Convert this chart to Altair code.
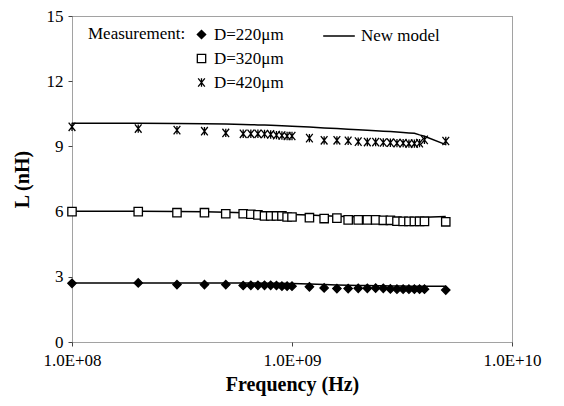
import altair as alt
import pandas as pd

# ---- data ----
freq_hz = [1e8, 2e8, 3e8, 4e8, 5e8, 6e8, 6.5e8, 7e8, 7.5e8, 8e8, 8.5e8, 9e8, 9.5e8,
           1e9, 1.2e9, 1.4e9, 1.6e9, 1.8e9, 2e9, 2.2e9, 2.4e9, 2.6e9, 2.8e9, 3e9,
           3.2e9, 3.4e9, 3.6e9, 3.8e9, 4e9, 5e9]

meas_220 = [2.70, 2.72, 2.64, 2.64, 2.64, 2.60, 2.61, 2.61, 2.61, 2.61, 2.60, 2.57, 2.57,
            2.57, 2.54, 2.49, 2.46, 2.46, 2.47, 2.47, 2.48, 2.47, 2.44, 2.43,
            2.43, 2.43, 2.43, 2.43, 2.43, 2.39]
meas_320 = [6.00, 6.00, 5.95, 5.95, 5.90, 5.90, 5.88, 5.85, 5.80, 5.80, 5.80, 5.80, 5.75,
            5.75, 5.72, 5.68, 5.70, 5.62, 5.62, 5.62, 5.62, 5.60, 5.60, 5.56,
            5.55, 5.55, 5.55, 5.55, 5.55, 5.53]
meas_420 = [9.90, 9.82, 9.75, 9.70, 9.62, 9.58, 9.58, 9.58, 9.57, 9.55, 9.52, 9.50, 9.48,
            9.48, 9.38, 9.28, 9.28, 9.26, 9.22, 9.20, 9.20, 9.18, 9.17, 9.15,
            9.15, 9.13, 9.13, 9.15, 9.30, 9.25]

model_220 = [2.72, 2.72, 2.72, 2.72, 2.72, 2.71, 2.71, 2.71, 2.70, 2.70, 2.70, 2.70, 2.69,
             2.69, 2.67, 2.64, 2.62, 2.61, 2.60, 2.60, 2.59, 2.59, 2.58, 2.58,
             2.58, 2.57, 2.57, 2.57, 2.57, 2.56]
model_320 = [6.02, 6.02, 6.00, 5.99, 5.97, 5.95, 5.94, 5.93, 5.92, 5.91, 5.90, 5.89, 5.88,
             5.87, 5.84, 5.81, 5.79, 5.77, 5.76, 5.74, 5.73, 5.72, 5.71, 5.71,
             5.71, 5.71, 5.72, 5.73, 5.74, 5.78]
model_420 = [10.06, 10.06, 10.05, 10.04, 10.03, 10.01, 10.00, 9.99, 9.98, 9.97, 9.96, 9.95, 9.94,
             9.93, 9.89, 9.85, 9.82, 9.79, 9.77, 9.74, 9.72, 9.70, 9.68, 9.66,
             9.64, 9.62, 9.60, 9.53, 9.47, 9.08]

series_labels = ["D=220μm", "D=320μm", "D=420μm"]
model_label = "New model"
x_tick_values = [1e8, 1e9, 1e10]
x_tick_labels = ["1.0E+08", "1.0E+09", "1.0E+10"]
y_tick_values = [0, 3, 6, 9, 12, 15]

# ---- build tables ----
meas_rows = []
for lab, vals in zip(series_labels, [meas_220, meas_320, meas_420]):
    for f, v in zip(freq_hz, vals):
        meas_rows.append({"f": f, "L": v, "D": lab})
model_rows = []
for lab, vals in zip(series_labels, [model_220, model_320, model_420]):
    for f, v in zip(freq_hz, vals):
        model_rows.append({"f": f, "L": v, "D": lab, "M": model_label})
meas_df = pd.DataFrame(meas_rows)
model_df = pd.DataFrame(model_rows)

label_expr = " : ".join(
    f"datum.value == {v:g} ? '{t}'" for v, t in zip(x_tick_values, x_tick_labels)
) + " : ''"

FONT = "Liberation Serif"
star_path = "M-0.8,-1L0.8,1M-0.8,1L0.8,-1M0,-1L0,1"

x_enc = alt.X(
    "f:Q",
    scale=alt.Scale(type="log", domain=[1e8, 1e10]),
    axis=alt.Axis(values=x_tick_values, labelExpr=label_expr, title="Frequency (Hz)",
                  labelPadding=6, titlePadding=6),
)
y_enc = alt.Y(
    "L:Q",
    scale=alt.Scale(domain=[0, 15]),
    axis=alt.Axis(values=y_tick_values, title="L (nH)", labelPadding=5, titlePadding=14),
)

meas_legend = alt.Legend(
    title="Measurement:", orient="none", legendX=16, legendY=10,
    titleOrient="left", titleAnchor="start", titleBaseline="top",
    titleFontSize=17, titleFontWeight="normal", titleFont=FONT,
    titleColor="black", titlePadding=7,
    labelFontSize=17, labelFont=FONT, labelColor="black",
    symbolSize=70, symbolStrokeWidth=1.3,
    rowPadding=6, padding=0, labelOffset=4,
)

lines = alt.Chart(model_df).mark_line(strokeWidth=1.5).encode(
    x=x_enc,
    y=y_enc,
    detail="D:N",
    color=alt.Color(
        "M:N",
        scale=alt.Scale(domain=[model_label], range=["black"]),
        legend=alt.Legend(
            title=None, orient="none", legendX=250, legendY=3,
            symbolType="stroke", symbolSize=1000, symbolStrokeWidth=1.5,
            labelFontSize=17, labelFont=FONT, labelColor="black", padding=0,
            labelOffset=5,
        ),
    ),
)

points = alt.Chart(meas_df).mark_point(size=70, strokeWidth=1.3, opacity=1).encode(
    x=x_enc,
    y=y_enc,
    shape=alt.Shape(
        "D:N",
        scale=alt.Scale(domain=series_labels, range=["diamond", "square", star_path]),
        legend=meas_legend,
    ),
    fill=alt.Fill(
        "D:N",
        scale=alt.Scale(domain=series_labels, range=["black", "white", "black"]),
        legend=meas_legend,
    ),
    stroke=alt.Stroke(
        "D:N",
        scale=alt.Scale(domain=series_labels, range=["black", "black", "black"]),
        legend=meas_legend,
    ),
)

chart = (
    alt.layer(lines, points)
    .resolve_scale(color="independent")
    .properties(
        width=440, height=326,
        autosize=alt.AutoSizeParams(type="none"),
        padding={"left": 64, "top": 8, "right": 36, "bottom": 56},
        background="white",
    )
    .configure(font=FONT)
    .configure_axis(
        grid=False, domain=False, tickColor="#444", tickSize=4, tickWidth=1,
        labelFlush=False,
        labelFont=FONT, labelFontSize=17, labelColor="black",
        titleFont=FONT, titleFontSize=20, titleFontWeight="bold", titleColor="black",
    )
    .configure_view(stroke="#444", strokeDash=[1, 1], strokeWidth=1)
)

chart.save("out.html", embed_options={"renderer": "svg", "actions": False})
